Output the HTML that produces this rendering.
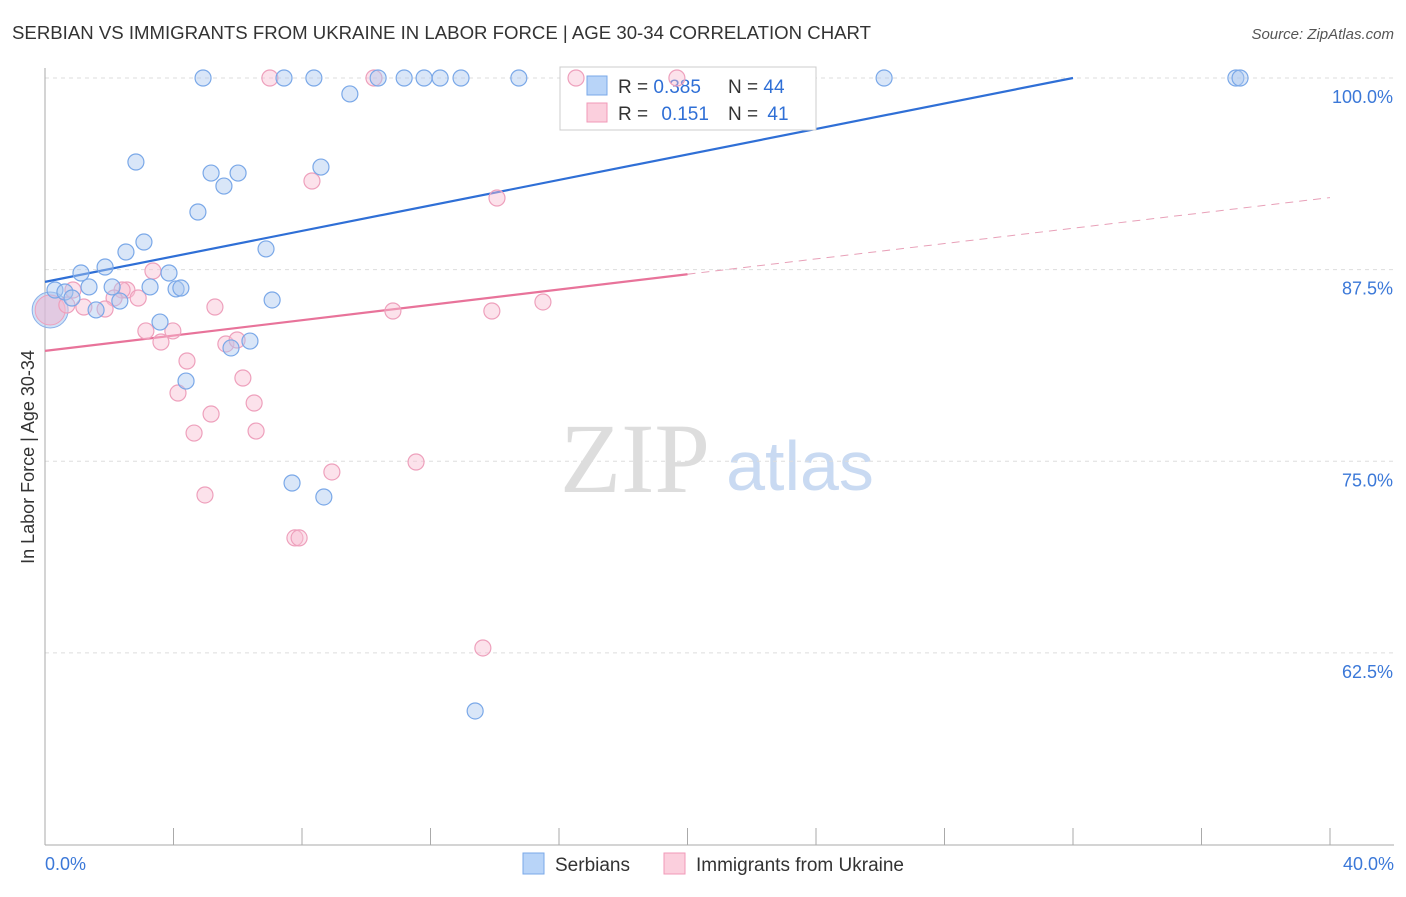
<!DOCTYPE html>
<html><head><meta charset="utf-8">
<style>
body{margin:0;background:#fff;font-family:"Liberation Sans",sans-serif;}
svg text{font-family:"Liberation Sans",sans-serif;}
svg text.serif{font-family:"Liberation Serif",serif;}
</style></head>
<body>
<svg id="chart" width="1406" height="892">
<text x="12" y="39" font-size="18" fill="#333" textLength="859" lengthAdjust="spacingAndGlyphs">SERBIAN VS IMMIGRANTS FROM UKRAINE IN LABOR FORCE | AGE 30-34 CORRELATION CHART</text>
<text x="1394" y="39" font-size="15" fill="#555" font-style="italic" text-anchor="end">Source: ZipAtlas.com</text>
<text x="34" y="457" font-size="18" fill="#333" text-anchor="middle" transform="rotate(-90 34 457)">In Labor Force | Age 30-34</text>
<text x="635" y="492" font-size="100" fill="#ddd" class="serif" text-anchor="middle">ZIP</text>
<text x="800" y="490" font-size="70" fill="#c9daf2" text-anchor="middle">atlas</text>
<g id="grid"></g><g id="axes"></g><g id="lines"></g>
<g>
<rect x="560" y="67" width="256" height="63" fill="#fff" stroke="#ccc"/>
<rect x="587" y="76" width="20" height="19" fill="#b8d4f8" stroke="#7aa8e8"/>
<text x="618" y="93" font-size="19" fill="#333">R = <tspan fill="#2f6fd6">0.385</tspan></text>
<text x="728" y="93" font-size="19" fill="#333">N = <tspan fill="#2f6fd6">44</tspan></text>
<rect x="587" y="103" width="20" height="19" fill="#fbcfdd" stroke="#f09ab8"/>
<text x="618" y="120" font-size="19" fill="#333">R = <tspan dx="8" fill="#2f6fd6">0.151</tspan></text>
<text x="728" y="120" font-size="19" fill="#333">N = <tspan dx="4" fill="#2f6fd6">41</tspan></text>
</g>
<g id="pts"></g>
<g>
<rect x="523" y="853" width="21" height="21" fill="#b8d4f8" stroke="#7aa8e8"/>
<text x="555" y="871" font-size="19" fill="#333">Serbians</text>
<rect x="664" y="853" width="21" height="21" fill="#fbcfdd" stroke="#f09ab8"/>
<text x="696" y="871" font-size="19" fill="#333">Immigrants from Ukraine</text>
</g>
</svg>
<script>
const blueX=[4.92,7.44,8.37,9.49,10.37,11.18,11.8,12.3,12.95,14.75,26.12,37.07,37.2,2.83,5.17,5.57,6.01,8.59,4.76,3.08,2.52,6.88,1.87,1.12,3.86,0.31,0.62,0.84,1.37,2.09,3.27,4.08,4.23,2.33,1.59,7.07,3.58,6.38,5.79,4.39,7.69,8.68,13.39];
const blueY=[100,100,100,98.96,100,100,100,100,100,100,100,100,100,94.52,93.8,92.95,93.8,94.19,91.26,89.3,88.65,88.85,87.67,87.28,87.28,86.17,86.04,85.65,86.37,86.37,86.37,86.24,86.3,85.45,84.87,85.52,84.08,82.84,82.39,80.23,73.58,72.67,58.71];
const pinkX=[7.0,10.24,16.53,19.67,8.31,14.07,3.36,0.87,2.55,2.4,2.9,2.15,0.68,1.21,1.87,5.29,10.83,13.91,15.5,3.14,3.98,3.61,5.63,5.98,4.42,6.16,4.14,6.51,5.17,6.57,4.64,8.93,11.55,4.98,7.78,7.91,13.63];
const pinkY=[100,100,100,100,93.28,92.17,87.41,86.17,86.17,86.17,85.65,85.65,85.19,85.06,84.93,85.06,84.8,84.8,85.39,83.5,83.5,82.78,82.65,82.91,81.54,80.43,79.45,78.8,78.08,76.97,76.84,74.3,74.95,72.8,70.0,70.0,62.82];
const bigBlue=[0.16,84.87], bigPink=[0.16,84.87];
const blueTrend=[0,86.7,32,100];
const pinkTrend=[0,82.2,20,87.2,40,92.2];
const yTicks=[100,87.5,75,62.5];
const yTickLabels=["100.0%","87.5%","75.0%","62.5%"];
const xTicks=[0,4,8,12,16,20,24,28,32,36,40];

const NS="http://www.w3.org/2000/svg";
const xs=v=>45+v*32.125, ys=v=>78+(100-v)*15.33;
function mk(tag,attrs,parent){const e=document.createElementNS(NS,tag);for(const k in attrs)e.setAttribute(k,attrs[k]);document.getElementById(parent).appendChild(e);return e;}
yTicks.forEach((t,i)=>{
 const l=mk('line',{x1:45,x2:1394,y1:ys(t),y2:ys(t),stroke:'#ddd','stroke-dasharray':'4,4'},'grid');
 
 
 const tx=mk('text',{x:1393,y:ys(t)+25,'font-size':18,fill:'#3b78d8','text-anchor':'end'},'grid');
 tx.textContent=yTickLabels[i];
 
 
});
let a=mk('line',{x1:45,x2:45,y1:68,y2:845,stroke:'#aaa'},'axes');


a=mk('line',{x1:45,x2:1394,y1:845,y2:845,stroke:'#aaa'},'axes');


xTicks.forEach(t=>{const l=mk('line',{x1:xs(t),x2:xs(t),y1:828,y2:845,stroke:'#aaa'},'axes');
 
 });
[[0,"0.0%",'start',45],[40,"40.0%",'end',1394]].forEach(d=>{const tx=mk('text',{x:d[3],y:870,'font-size':18,fill:'#3b78d8','text-anchor':d[2]},'axes');tx.textContent=d[1];
 
 });
let bl=mk('line',{x1:xs(blueTrend[0]),y1:ys(blueTrend[1]),x2:xs(blueTrend[2]),y2:ys(blueTrend[3]),stroke:'#2f6fd6','stroke-width':2.2},'lines');


let pl=mk('line',{x1:xs(pinkTrend[0]),y1:ys(pinkTrend[1]),x2:xs(pinkTrend[2]),y2:ys(pinkTrend[3]),stroke:'#e8739a','stroke-width':2.2},'lines');


let pd=mk('line',{x1:xs(pinkTrend[2]),y1:ys(pinkTrend[3]),x2:xs(pinkTrend[4]),y2:ys(pinkTrend[5]),stroke:'#e8a0b8','stroke-width':1,'stroke-dasharray':'8,6'},'lines');


let c=mk('circle',{cx:xs(bigBlue[0]),cy:ys(bigBlue[1]),r:18,fill:'rgba(160,195,240,0.5)',stroke:'#8ab0e8'},'pts');


c=mk('circle',{cx:xs(bigPink[0]),cy:ys(bigPink[1]),r:15,fill:'rgba(245,180,205,0.5)',stroke:'#eea0bc'},'pts');


pinkX.forEach((x,i)=>{const p=mk('circle',{cx:xs(x),cy:ys(pinkY[i]),r:8,fill:'rgba(248,190,210,0.45)',stroke:'#eea0bc','stroke-width':1.2},'pts');
 
 });
blueX.forEach((x,i)=>{const p=mk('circle',{cx:xs(x),cy:ys(blueY[i]),r:8,fill:'rgba(170,200,240,0.45)',stroke:'#7aa8e8','stroke-width':1.2},'pts');
 
 });
</script>
</body></html>
